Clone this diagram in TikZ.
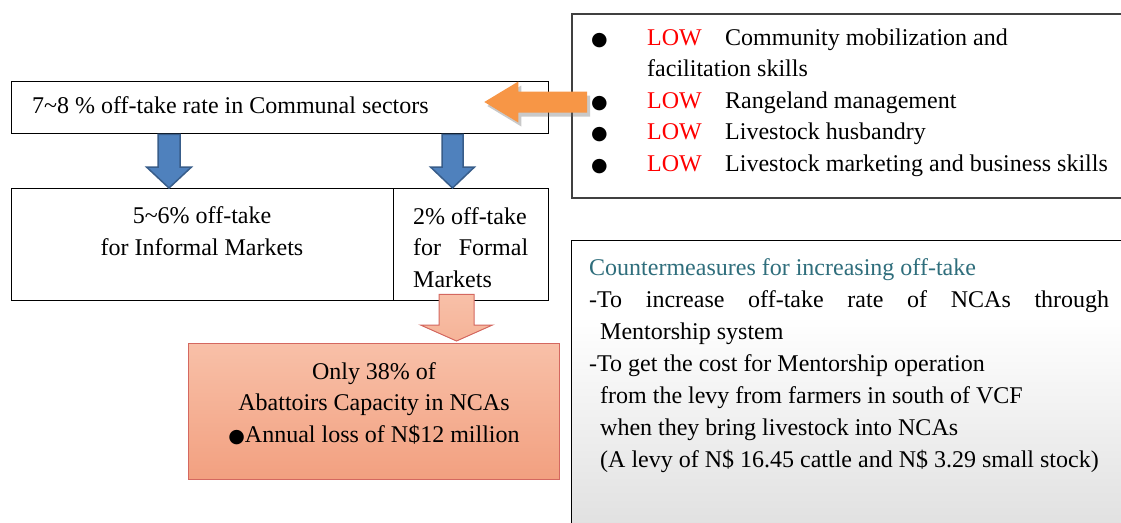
\documentclass[tikz,border=0pt]{standalone}
\usepackage{fontspec}
\setmainfont{Liberation Serif}
\newfontfamily\symfont{DejaVu Sans}
\newcommand\bul{{\symfont\fontsize{19}{19}\selectfont ●}}
\usetikzlibrary{calc,shadows}
\definecolor{bluefill}{RGB}{79,129,189}
\definecolor{blueline}{RGB}{56,93,138}
\definecolor{orangefill}{RGB}{247,150,70}
\definecolor{salmontop}{RGB}{248,192,168}
\definecolor{salmonbot}{RGB}{242,160,128}
\definecolor{salmonline}{RGB}{212,104,96}
\definecolor{cmteal}{RGB}{47,110,124}
\definecolor{lowred}{RGB}{255,0,0}
\pgfdeclareverticalshading{cmshade}{100bp}{color(0bp)=(black!20); color(35bp)=(black!9); color(62bp)=(white); color(100bp)=(white)}
% vertical (downward) block arrow: #1 style, #2 start, #3 tip, #4 shaft half width, #5 head half width, #6 head length
\newcommand\vblockarrow[6]{%
  \path[#1] let \p1=(#2), \p2=(#3) in
    (\x2-#4,\y1) -- (\x2-#4,\y2+#6) -- (\x2-#5,\y2+#6) -- (\x2,\y2)
    -- (\x2+#5,\y2+#6) -- (\x2+#4,\y2+#6) -- (\x2+#4,\y1) -- cycle;}
% horizontal (leftward) block arrow
\newcommand\hblockarrow[6]{%
  \path[#1] let \p1=(#2), \p2=(#3) in
    (\x1,\y2-#4) -- (\x2+#6,\y2-#4) -- (\x2+#6,\y2-#5) -- (\x2,\y2)
    -- (\x2+#6,\y2+#5) -- (\x2+#6,\y2+#4) -- (\x1,\y2+#4) -- cycle;}
\begin{document}
\begin{tikzpicture}[x=1pt,y=-1pt,
  font=\fontsize{24}{31.5}\selectfont,
  box/.style={draw=black, line width=1.3pt, inner sep=0pt, anchor=north west},
  txt/.style={inner sep=0pt, anchor=base west, align=left},
  ctxt/.style={inner sep=0pt, anchor=base, align=center},
  bluearrow/.style={fill=bluefill, draw=blueline, line width=1.5pt},
  salmonarrow/.style={top color=salmontop, bottom color=salmontop!60!salmonbot, draw=salmonline, line width=1pt},
  orangearrow/.style={fill=orangefill, drop shadow={shadow xshift=3pt, shadow yshift=-4pt, opacity=0.35, fill=black!60}}]
\clip (0,0) rectangle (1121,522);
\fill[white] (0,0) rectangle (1121,522);

% boxes
\node[box, minimum width=537pt, minimum height=52pt] (top) at (11,81) {};
\node[box, minimum width=382pt, minimum height=112pt] (informal) at (11,188) {};
\node[box, minimum width=155pt, minimum height=112pt] (formal) at (393,188) {};
\node[box, draw=salmonline, line width=1pt, top color=salmontop, bottom color=salmonbot,
      minimum width=371pt, minimum height=136pt] (abattoir) at (188,343) {};
\node[box, draw=black!75, line width=1.5pt, minimum width=570pt, minimum height=184pt] (skills) at (571,13) {};
\node[box, draw=black, line width=1.3pt, shading=cmshade,
      minimum width=570pt, minimum height=292pt] (counter) at (571,240) {};

% texts (multi-line nodes are anchored at the baseline of their last line)
\node[txt] (toptxt) at (32,113) {7\textasciitilde 8 \% off-take rate in Communal sectors};
\node[ctxt] (inftxt) at (202,255) {5\textasciitilde 6\% off-take\\for Informal Markets};
\node[txt] (formtxt) at (413,287) {2\% off-take\\\hbox to 115pt{for\hfill Formal}\\Markets};
\node[ctxt] (abtxt) at (374,442) {Only 38\% of\\Abattoirs Capacity in NCAs\\\bul Annual loss of N\$12 million};
\node[txt] (skilltxt) at (591,171) {%
  \makebox[56pt][l]{\bul}\makebox[78pt][l]{\textcolor{lowred}{LOW}}Community mobilization and\\
  \hspace*{56pt}facilitation skills\\
  \makebox[56pt][l]{\bul}\makebox[78pt][l]{\textcolor{lowred}{LOW}}Rangeland management\\
  \makebox[56pt][l]{\bul}\makebox[78pt][l]{\textcolor{lowred}{LOW}}Livestock husbandry\\
  \makebox[56pt][l]{\bul}\makebox[78pt][l]{\textcolor{lowred}{LOW}}Livestock marketing and business skills};
\node[txt, font=\fontsize{24}{32}\selectfont] (countertxt) at (589,467) {%
  \textcolor{cmteal}{Countermeasures for increasing off-take}\\
  \hbox to 520pt{-To\hfill increase\hfill off-take\hfill rate\hfill of\hfill NCAs\hfill through}\\
  \hspace*{11pt}Mentorship system\\
  -To get the cost for Mentorship operation\\
  \hspace*{11pt}from the levy from farmers in south of VCF\\
  \hspace*{11pt}when they bring livestock into NCAs\\
  \hspace*{11pt}(A levy of N\$ 16.45 cattle and N\$ 3.29 small stock)};

% connectors (block arrows)
\coordinate (xa) at (169,0);
\coordinate (xb) at (452.5,0);
\coordinate (xc) at (456.5,0);
\coordinate (yo) at (0,102);
\vblockarrow{bluearrow}{top.south -| xa}{informal.north -| xa}{11pt}{22.5pt}{21pt}
\vblockarrow{bluearrow}{top.south -| xb}{formal.north -| xb}{10.5pt}{22pt}{21pt}
\vblockarrow{salmonarrow}{$(formal.south -| xc)+(0,-7)$}{$(abattoir.north -| xc)+(0,-2)$}{17.5pt}{36pt}{16pt}
\hblockarrow{orangearrow}{$(skills.west |- yo)+(16,0)$}{$(top.east |- yo)+(-65,0)$}{10.5pt}{20.5pt}{34pt}
\end{tikzpicture}
\end{document}
